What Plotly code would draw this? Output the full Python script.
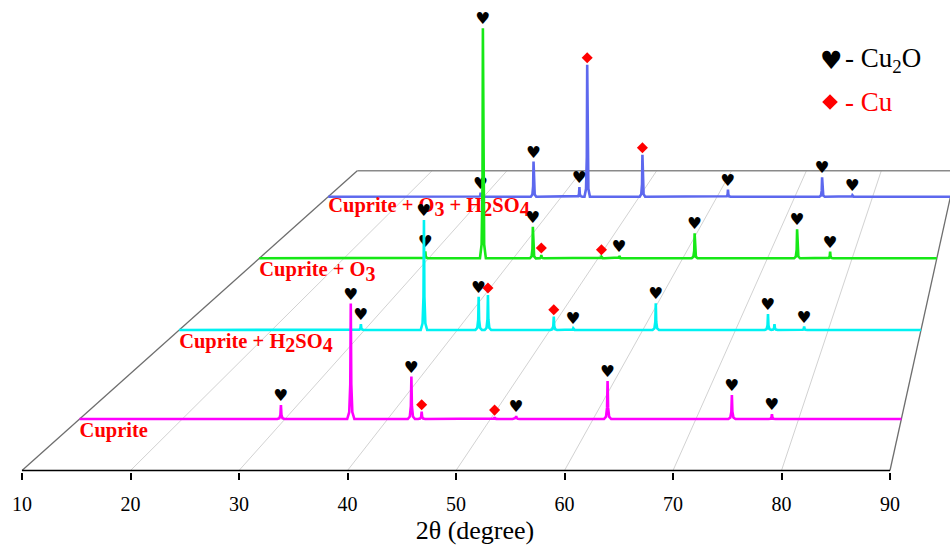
import plotly.graph_objects as go

# ---- XRD peak lists: 2θ position (degree), peak height (a.u.), phase ----
cuprite_pos = [29.6, 36.4, 42.3, 43.3, 50.4, 52.5, 61.4, 73.5, 77.4]
cuprite_int = [14.8, 122.0, 45.0, 7.7, 2.0, 3.2, 40.0, 25.3, 5.0]
cuprite_phase = ["Cu2O", "Cu2O", "Cu2O", "Cu", "Cu", "Cu2O", "Cu2O", "Cu2O", "Cu2O"]

h2so4_pos = [29.6, 36.4, 42.3, 43.3, 50.4, 52.5, 61.4, 73.5, 74.2, 77.4]
h2so4_int = [7.0, 128.6, 39.0, 41.0, 15.6, 2.0, 31.2, 18.7, 7.0, 4.0]
h2so4_phase = ["Cu2O", "Cu2O", "Cu2O", "Cu", "Cu", "Cu2O", "Cu2O", "Cu2O", "", "Cu2O"]

o3_pos = [29.6, 36.4, 42.3, 43.3, 50.4, 52.5, 61.4, 73.5, 77.4]
o3_int = [9.0, 294.6, 40.5, 4.2, 2.0, 3.0, 32.0, 37.1, 8.5]
o3_phase = ["Cu2O", "Cu2O", "Cu2O", "Cu", "Cu", "Cu2O", "Cu2O", "Cu2O", "Cu2O"]

o3_h2so4_pos = [29.6, 36.4, 42.3, 43.3, 50.4, 61.4, 73.5, 77.4]
o3_h2so4_int = [5.6, 49.0, 13.5, 184.0, 58.5, 9.8, 27.0, 2.0]
o3_h2so4_phase = ["Cu2O", "Cu2O", "Cu2O", "Cu", "Cu", "Cu2O", "Cu2O", "Cu2O"]


def sub(d):
    # full-size, lowered subscript digit
    return "<sub><span style='font-size:20px'>" + d + "</span></sub>"


sample_names = [
    "Cuprite",
    "Cuprite + H" + sub("2") + "SO" + sub("4"),
    "Cuprite + O" + sub("3"),
    "Cuprite + O" + sub("3") + " + H" + sub("2") + "SO" + sub("4"),
]
tick_vals = [10, 20, 30, 40, 50, 60, 70, 80, 90]
tick_text = ["10", "20", "30", "40", "50", "60", "70", "80", "90"]

SERIF = "Times New Roman, Liberation Serif, DejaVu Serif, serif"

# ---- perspective set-up (front plane units: x in degrees, y in pixels) ----
XV, YV = 109.67, 967.0          # vanishing point
ROW_FLOOR = [51.5, 140.5, 212.2, 273.8]   # floor height of each row at the front plane
BACK_FLOOR = 299.8
COLORS = ["#ff00ff", "#00f2f2", "#16e816", "#5d68ee"]
X0, X1 = 10.0, 90.0

# narrow peak stencil (offset in degrees, fraction of height)
STENCIL_DX = [-0.35, -0.15, -0.05, 0.0, 0.05, 0.15, 0.35]
STENCIL_F = [0.0, 0.06, 0.3, 1.0, 0.3, 0.06, 0.0]


def scale_of(floor_y):
    return 1.0 - floor_y / YV


def project(x, y, s):
    return XV + (x - XV) * s, YV + (y - YV) * s


def pattern(pos, inten):
    xs, ys = [X0], [0.0]
    for p, h in sorted(zip(pos, inten)):
        for dx, f in zip(STENCIL_DX, STENCIL_F):
            xs.append(p + dx)
            ys.append(h * f)
    xs.append(X1)
    ys.append(0.0)
    return xs, ys


fig = go.Figure()

# ---- floor: grid lines running to the back edge ----
s_back = scale_of(BACK_FLOOR)
for t in tick_vals:
    bx, by = project(t, 0.0, s_back)
    edge = t in (X0, X1)
    fig.add_trace(go.Scatter(
        x=[t, bx], y=[0, by], mode="lines",
        line=dict(color="#6e6e6e" if edge else "#d2d2d2", width=1.3 if edge else 1),
        hoverinfo="skip", showlegend=False))
bx0, by0 = project(X0, 0.0, s_back)
bx1, by1 = project(X1, 0.0, s_back)
fig.add_trace(go.Scatter(x=[bx0, bx1], y=[by0, by1], mode="lines",
                         line=dict(color="#8a8a8a", width=1.6),
                         hoverinfo="skip", showlegend=False))
# front edge (axis line)
fig.add_trace(go.Scatter(x=[X0, X1], y=[0, 0], mode="lines",
                         line=dict(color="black", width=1.6),
                         hoverinfo="skip", showlegend=False))

series = [
    (cuprite_pos, cuprite_int, cuprite_phase),
    (h2so4_pos, h2so4_int, h2so4_phase),
    (o3_pos, o3_int, o3_phase),
    (o3_h2so4_pos, o3_h2so4_int, o3_h2so4_phase),
]

# draw from back to front
for i in reversed(range(4)):
    pos, inten, phase = series[i]
    s = scale_of(ROW_FLOOR[i])
    xs, ys = pattern(pos, inten)
    pts = [project(x, y, s) for x, y in zip(xs, ys)]
    fig.add_trace(go.Scatter(
        x=[p[0] for p in pts], y=[p[1] for p in pts], mode="lines",
        line=dict(color=COLORS[i], width=2.6), hoverinfo="skip", showlegend=False))

    # sample label under the start of the pattern
    lx, ly = project(X0, 0.0, s)
    fig.add_trace(go.Scatter(
        x=[lx], y=[ly - (10 if i == 3 else 13)], mode="text",
        text=["<b>" + sample_names[i] + "</b>"], textposition="middle right",
        textfont=dict(family=SERIF, size=20.5, color="#ff0000"),
        cliponaxis=False, hoverinfo="skip", showlegend=False))

    # phase symbols above the peaks
    hx, hy, dxs, dys = [], [], [], []
    for p, h, ph in zip(pos, inten, phase):
        px, py = project(p, h, s)
        if ph == "Cu2O":
            hx.append(px)
            hy.append(py + 8)
        elif ph == "Cu":
            dxs.append(px)
            dys.append(py + 7)
    fig.add_trace(go.Scatter(
        x=hx, y=hy, mode="text", text=["♥"] * len(hx), textposition="middle center",
        textfont=dict(family="DejaVu Sans", size=16.5, color="black"),
        cliponaxis=False, hoverinfo="skip", showlegend=False))
    fig.add_trace(go.Scatter(
        x=dxs, y=dys, mode="markers",
        marker=dict(symbol="diamond", size=8.5, color="#ff0000", line=dict(width=0)),
        cliponaxis=False, hoverinfo="skip", showlegend=False))

# ---- phase key ----
fig.add_annotation(x=84.56, y=410.5, xref="x", yref="y", text="♥", showarrow=False,
                   font=dict(family="DejaVu Sans", size=25, color="black"),
                   xanchor="center", yanchor="middle")
fig.add_annotation(x=85.67, y=410.5, xref="x", yref="y",
                   text="- Cu<sub>2</sub>O", showarrow=False,
                   font=dict(family=SERIF, size=27, color="black"),
                   xanchor="left", yanchor="middle")
fig.add_trace(go.Scatter(
    x=[84.47], y=[368.5], mode="markers",
    marker=dict(symbol="diamond", size=12, color="#ff0000", line=dict(width=0)),
    cliponaxis=False, hoverinfo="skip", showlegend=False))
fig.add_annotation(x=85.67, y=368.5, xref="x", yref="y", text="- Cu", showarrow=False,
                   font=dict(family=SERIF, size=27, color="#ff0000"),
                   xanchor="left", yanchor="middle")

fig.update_layout(
    width=950, height=545,
    margin=dict(l=0, r=0, t=0, b=73),
    paper_bgcolor="white", plot_bgcolor="white",
    showlegend=False,
    xaxis=dict(
        range=[7.972, 95.53], showgrid=False, zeroline=False, showline=False,
        tickmode="array", tickvals=tick_vals, ticktext=tick_text,
        ticks="outside", ticklen=7, tickwidth=1.6, tickcolor="black",
        ticklabelstandoff=7,
        tickfont=dict(family=SERIF, size=20, color="black"),
        title=dict(text="2θ (degree)", standoff=7,
                   font=dict(family=SERIF, size=26, color="black")),
    ),
    yaxis=dict(range=[-1.5, 470.5], visible=False),
)

fig.write_html("out.html")
